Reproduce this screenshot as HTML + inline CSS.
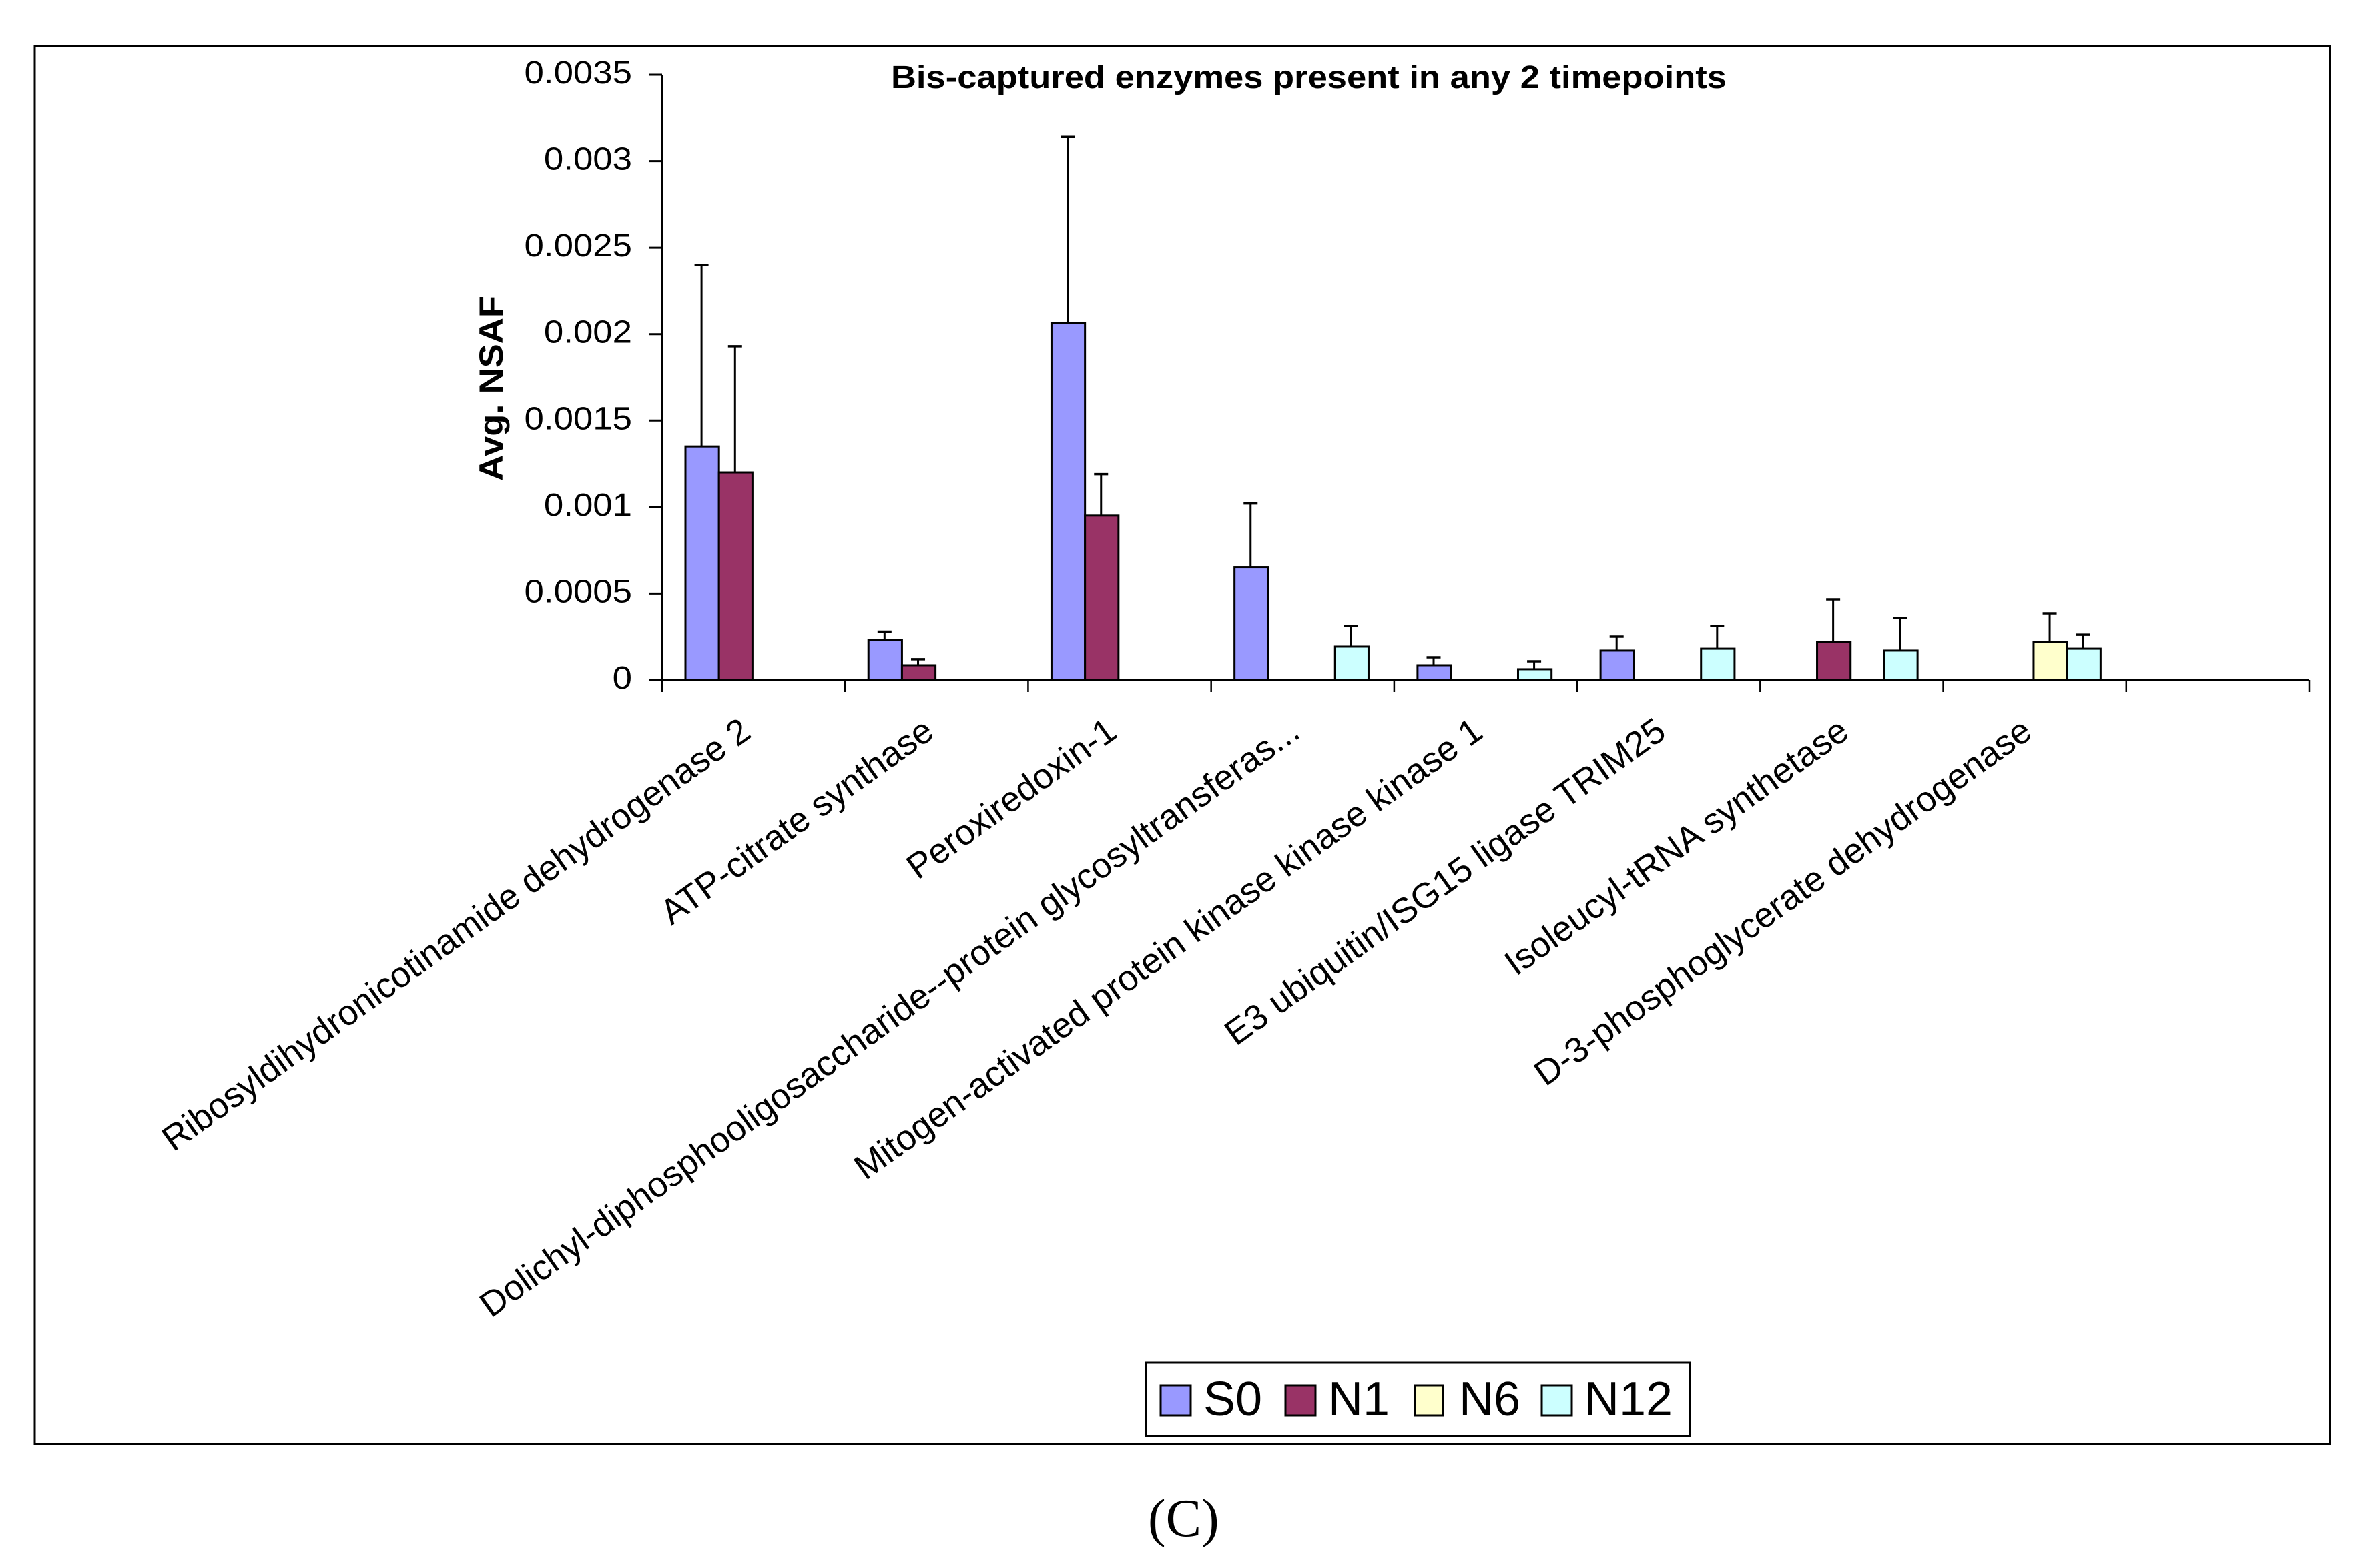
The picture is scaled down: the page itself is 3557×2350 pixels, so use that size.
<!DOCTYPE html>
<html lang="en">
<head>
<meta charset="utf-8">
<title>Bis-captured enzymes present in any 2 timepoints</title>
<style>
  html, body { margin: 0; padding: 0; background: #fff; }
  svg { display: block; }
  text { font-family: "Liberation Sans", Arial, sans-serif; fill: #000; }
</style>
</head>
<body>
<svg id="chart" xmlns="http://www.w3.org/2000/svg" width="3557" height="2350" viewBox="0 0 3557 2350">
  <rect x="0" y="0" width="3557" height="2350" fill="#ffffff"/>
  <rect x="52" y="69" width="3439" height="2095" fill="none" stroke="#000" stroke-width="3"/>
  <text x="1335" y="132" font-size="48" font-weight="700" textLength="1252" lengthAdjust="spacingAndGlyphs">Bis-captured enzymes present in any 2 timepoints</text>
  <text transform="translate(753,721) rotate(-90)" font-size="50" font-weight="700" textLength="278" lengthAdjust="spacingAndGlyphs">Avg. NSAF</text>
  <g id="plot"></g>
  <g>
    <rect x="1717" y="2042" width="815" height="110" fill="#fff" stroke="#000" stroke-width="3"/>
    <g>
      <rect x="1739" y="2076" width="45" height="45" fill="#9999FF" stroke="#000" stroke-width="3"/>
      <text x="1803" y="2121" font-size="72">S0</text>
    </g>
    <g>
      <rect x="1926" y="2076" width="45" height="45" fill="#993366" stroke="#000" stroke-width="3"/>
      <text x="1990" y="2121" font-size="72">N1</text>
    </g>
    <g>
      <rect x="2120" y="2076" width="42" height="45" fill="#FFFFCC" stroke="#000" stroke-width="3"/>
      <text x="2186" y="2121" font-size="72">N6</text>
    </g>
    <g>
      <rect x="2310" y="2076" width="45" height="45" fill="#CCFFFF" stroke="#000" stroke-width="3"/>
      <text x="2374" y="2121" font-size="72">N12</text>
    </g>
  </g>
  <text x="1720" y="2302" font-size="80" style="font-family:'Liberation Serif',serif">(C)</text>
</svg>
<script>
const categories = [
  "Ribosyldihydronicotinamide dehydrogenase 2",
  "ATP-citrate synthase",
  "Peroxiredoxin-1",
  "Dolichyl-diphosphooligosaccharide--protein glycosyltransferas...",
  "Mitogen-activated protein kinase kinase kinase 1",
  "E3 ubiquitin/ISG15 ligase TRIM25",
  "Isoleucyl-tRNA synthetase",
  "D-3-phosphoglycerate dehydrogenase",
  ""
];
const yTickLabels = ["0", "0.0005", "0.001", "0.0015", "0.002", "0.0025", "0.003", "0.0035"];
const seriesNames = ["S0", "N1", "N6", "N12"];
const seriesColors = ["#9999FF", "#993366", "#FFFFCC", "#CCFFFF"];
const s0 = [0.00135, 0.00023, 0.002065, 0.00065, 0.000085, 0.00017, null, null, null];
const n1 = [0.0012, 0.000085, 0.00095, null, null, null, 0.00022, null, null];
const n6 = [null, null, null, null, null, null, null, 0.00022, null];
const n12 = [null, null, null, 0.000193, 0.000062, 0.000181, 0.00017, 0.000181, null];
const s0Err = [0.0024, 0.00028, 0.00314, 0.00102, 0.000131, 0.000251, null, null, null];
const n1Err = [0.00193, 0.00012, 0.00119, null, null, null, 0.000467, null, null];
const n6Err = [null, null, null, null, null, null, null, 0.000386, null];
const n12Err = [null, null, null, 0.000313, 0.000108, 0.000313, 0.000359, 0.000262, null];
const yMax = 0.0035;

const seriesValues = [s0, n1, n6, n12];
const seriesErrors = [s0Err, n1Err, n6Err, n12Err];
const NS = "http://www.w3.org/2000/svg";
const plot = document.getElementById("plot");
const X0 = 992, X1 = 3460, Y0 = 1019, YT = 112;
const catW = (X1 - X0) / categories.length;
const barW = 50.2, barOffset = 35;
function yScale(v) { return Y0 - (v / yMax) * (Y0 - YT); }
function xBand(i) { return X0 + i * catW; }
function make(tag, attrs, parent) {
  const el = document.createElementNS(NS, tag);
  for (const k in attrs) el.setAttribute(k, attrs[k]);
  (parent || plot).appendChild(el);
  return el;
}

// bars and error bars
seriesValues.forEach(function (vals, s) {
  vals.forEach(function (v, i) {
    if (v === null) return;
    const x = xBand(i) + barOffset + s * barW;
    const y = yScale(v);
    const bar = make("rect", { x: x, y: y, width: barW, height: Y0 - y, fill: seriesColors[s], stroke: "#000", "stroke-width": 3 });
    
    
    const e = seriesErrors[s][i];
    if (e !== null) {
      const cx = x + barW / 2 - 1;
      const ye = yScale(e);
      const stem = make("line", { x1: cx, x2: cx, y1: y, y2: ye, stroke: "#000", "stroke-width": 3 });
      
      
      const cap = make("line", { x1: cx - 10.5, x2: cx + 10.5, y1: ye, y2: ye, stroke: "#000", "stroke-width": 3.5 });
      
      
    }
  });
});

// y axis
const yAxis = make("line", { x1: X0, x2: X0, y1: YT, y2: Y0, stroke: "#000", "stroke-width": 3 });


yTickLabels.forEach(function (label) {
  const y = yScale(parseFloat(label));
  const tick = make("line", { x1: X0 - 19, x2: X0, y1: y, y2: y, stroke: "#000", "stroke-width": 3 });
  
  
  const t = make("text", { transform: "translate(947," + (y + 13) + ") scale(1.1,1)", "font-size": 48, "text-anchor": "end" });
  t.textContent = label;
  
  
});

// x axis
const xAxis = make("line", { x1: X0 - 19, x2: X1, y1: Y0, y2: Y0, stroke: "#000", "stroke-width": 4 });


for (let i = 0; i <= categories.length; i++) {
  const tick = make("line", { x1: xBand(i), x2: xBand(i), y1: Y0, y2: Y0 + 18, stroke: "#000", "stroke-width": 2.5 });
  
  
}
categories.forEach(function (label, i) {
  if (!label) return;
  const cx = xBand(i) + catW / 2;
  const t = make("text", { transform: "translate(" + (cx - 1) + ",1103) rotate(-35.7)", "font-size": 53, "text-anchor": "end" });
  t.textContent = label;
  
  
});
</script>
</body>
</html>
